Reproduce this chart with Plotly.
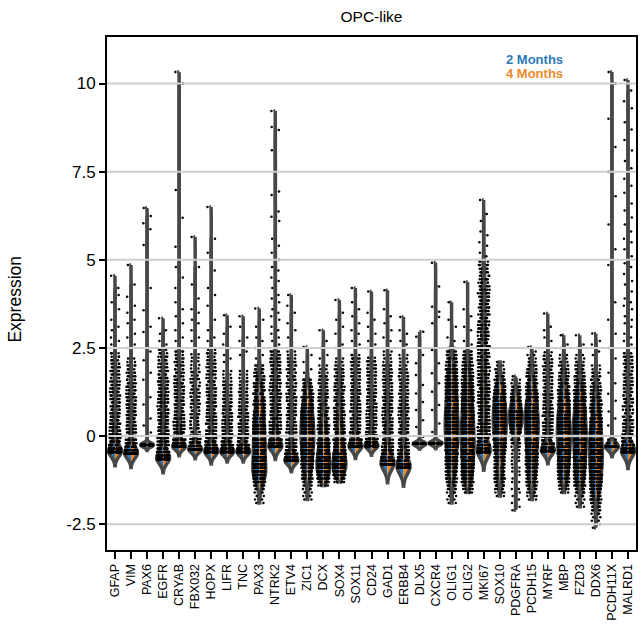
import numpy as np
import plotly.graph_objects as go

# Genes shown along the x axis (OPC-like cells)
GENES = ["GFAP", "VIM", "PAX6", "EGFR", "CRYAB", "FBX032", "HOPX", "LIFR", "TNC",
         "PAX3", "NTRK2", "ETV4", "ZIC1", "DCX", "SOX4", "SOX11", "CD24", "GAD1",
         "ERBB4", "DLX5", "CXCR4", "OLIG1", "OLIG2", "MKI67", "SOX10", "PDGFRA",
         "PCDH15", "MYRF", "MBP", "FZD3", "DDX6", "PCDH11X", "MALRD1"]

GROUPS = ["2 Months", "4 Months"]

# Cell counts tallied on a 0.1-wide grid of scaled expression, starting at
# BULK_START (for zero-inflated genes the first bin is the non-expressing cells)
STEP = 0.1
BULK_START = [-0.45, -0.5, -0.25, -0.65, -0.3, -0.38, -0.45, -0.45, -0.45, -1.9, -0.3, -0.7,
              -1.8, -1.4, -1.3, -0.3, -0.28, -0.8, -0.9, -0.22, -0.2, -1.9, -1.6, -0.45,
              -1.7, -2.1, -1.8, -0.42, -1.6, -2.0, -2.6, -0.3, -0.45]

BULK_2M = [
    [70,10,8,6,5,4,4,4,4,3,4,3,3,3,3,3,3,3,3,2,3,2,2,2,2,2,2,1,2],
    [75,10,8,6,5,4,3,3,3,3,3,3,3,3,3,3,3,3,2,3,2,2,2,2,2,2,1,1],
    [45],
    [65,11,9,7,6,5,5,4,4,4,4,4,4,4,4,4,4,4,4,3,3,3,3,3,2,2,2,2,2,2,2,2],
    [60,11,9,8,6,5,5,5,4,4,3,3,3,3,3,3,3,3,3,3,2,2,2,2,2,2,2,2],
    [55,8,6,4,3,3,2,2,2,2,2,2,2,2,2,2,2,2,2,2,2,1,2,1,1,1,1,1],
    [65,10,8,6,5,4,4,3,3,3,3,3,3,3,3,3,3,3,3,2,2,2,2,2,2,2,2,2,2,1],
    [65,10,8,6,5,3,3,3,3,3,3,3,3,3,3,3,2,2,2,2,2,1,1,1],
    [62,10,8,6,4,3,3,3,3,3,3,3,3,3,2,2,2,2,2,2,1,1,1,1],
    [1,1,1,1,2,4,7,11,13,14,14,13,13,13,12,12,12,12,12,12,11,11,11,10,10,9,9,8,8,7,7,6,5,5,4,4,3,3,2,2],
    [60,11,9,7,6,5,5,5,4,4,4,4,4,4,4,4,4,4,3,3,3,3,3,3,3,3,3,3],
    [65,11,9,6,5,4,4,3,3,3,3,3,3,3,3,3,3,3,3,3,2,2,2,2,2,2,2,2,2,2,1,1],
    [1,1,1,1,2,3,5,6,7,8,9,10,10,11,12,12,13,13,14,14,14,13,13,12,12,11,10,9,8,7,6,5,4,3,3],
    [2,5,9,13,15,16,16,15,14,13,12,11,10,9,8,7,6,6,5,5,4,4,4,3,3,3,3,2,2,2,2,2,2,1,1],
    [2,6,11,15,17,17,16,15,13,11,10,9,8,7,6,6,5,5,5,4,4,4,4,4,3,3,3,3,3,2,2,2,2,2,1,1],
    [60,10,8,6,5,4,3,3,3,3,3,3,3,3,3,3,3,3,2,2,2,2,2,2,2,2,2],
    [60,10,8,6,5,4,4,3,3,3,3,3,3,3,3,3,3,2,2,2,2,2,2,2,2,2],
    [70,12,9,7,6,5,4,4,4,4,4,4,4,3,3,3,3,3,3,3,3,2,2,2,2,2,2,2,2,1,1,1,1],
    [70,12,9,7,6,4,4,4,4,4,4,3,3,3,3,3,3,3,3,2,2,2,2,2,2,2,2,2,2,1,1,1,1],
    [40],
    [40],
    [1,1,1,1,2,3,4,5,6,7,8,8,9,10,10,11,12,12,13,13,14,14,14,14,14,13,13,13,12,12,11,11,10,10,9,8,8,7,6,5,5,4,3,3,2],
    [1,2,4,7,9,10,11,11,12,12,13,13,14,14,15,15,15,15,14,14,14,13,13,12,12,11,11,10,9,9,8,7,7,6,5,5,4,4,3,3,2],
    [60,11,9,7,6,5,5,5,5,5,5,5,5,5,5,5,5,5,5,5,5,4,4,4,4,4,4,4,4,4,4,4,4,4,4,4,4,3,3,3,3,3,3,3,3,3,3,3,3,2,2,2,2,2,2],
    [1,1,2,3,4,4,5,5,5,5,5,6,6,7,8,9,10,11,12,13,13,13,13,13,13,12,12,11,10,9,8,7,5,4,3,2,2,1,1],
    [1,0,1,0,1,0,1,0,1,1,0,1,1,1,1,1,1,1,1,2,3,5,7,10,12,14,15,15,14,12,10,8,6,4,3,2,1,1,1],
    [1,1,2,3,4,5,6,6,7,7,8,8,9,9,10,10,11,11,12,12,13,13,13,13,13,12,12,11,10,9,8,7,6,5,4,4,3,3,2,2,1,1],
    [60,10,8,6,5,4,3,3,3,3,3,3,3,3,3,3,3,3,2,2,2,2,2,2,2,2,2,2,1],
    [1,2,3,5,7,8,9,10,10,11,11,12,12,13,13,14,14,14,14,14,13,13,12,12,11,10,9,8,7,6,5,4,4,3,3,2,2,2,1,1],
    [1,1,1,1,2,3,5,7,8,9,9,10,10,11,11,12,12,13,13,14,14,14,14,14,13,13,12,12,11,10,9,8,7,6,5,4,4,3,3,2,2,2,1,1],
    [1,0,1,1,1,2,2,3,4,5,6,7,8,9,10,11,12,12,13,13,14,14,14,14,14,13,13,12,12,11,10,9,8,7,7,6,5,5,4,4,3,3,2,2,2,1,1],
    [55,3,2],
    [60,10,7,5,4,3,3,3,3,2,2,2,2,2,2,2,2,2,2,2,2,2,2,2,2,2,2,2,2],
]

BULK_4M = [
    [68,10,8,6,5,4,4,3,4,3,3,3,3,3,3,3,3,3,2,3,2,2,2,2,2,2,1,2,1],
    [72,10,8,6,4,4,3,3,3,3,3,3,3,3,3,3,3,2,3,2,2,2,2,2,1,2,1,1],
    [45],
    [62,11,9,7,6,5,4,4,4,4,4,4,4,4,4,4,4,4,3,3,3,3,3,3,2,2,2,2,2,2,1,1],
    [58,11,9,7,6,5,5,4,4,4,3,3,3,3,3,3,3,3,3,2,2,2,2,2,2,2,1,2],
    [55,8,6,4,3,2,2,2,2,2,2,2,2,2,2,2,2,2,2,1,2,1,2,1,1,1,1,1],
    [65,10,8,6,5,4,3,3,3,3,3,3,3,3,3,3,3,2,3,2,2,2,2,2,2,2,2,1,2,1],
    [63,10,8,6,4,3,3,3,3,3,3,3,3,3,3,2,2,2,2,2,1,2,1,1],
    [64,10,8,5,4,3,3,3,3,3,3,3,3,2,3,2,2,2,2,1,2,1,1,1],
    [1,1,1,2,3,5,8,12,14,14,13,13,13,12,12,12,12,12,12,11,11,11,10,10,10,9,9,8,7,7,6,6,5,4,4,3,3,2,2,2],
    [58,11,9,7,6,5,5,4,4,4,4,4,4,4,4,4,4,3,3,3,3,3,3,3,3,3,3,2],
    [63,11,9,6,5,4,3,3,3,3,3,3,3,3,3,3,3,3,3,2,2,2,2,2,2,2,2,2,2,1,1,1],
    [1,1,1,2,2,4,5,6,8,9,9,10,11,11,12,13,13,14,14,14,13,13,13,12,11,11,10,9,8,7,6,5,4,3,2],
    [2,6,10,14,16,16,15,15,14,13,12,11,10,9,8,7,6,6,5,5,4,4,3,3,3,3,3,2,2,2,2,2,1,1,1],
    [2,5,10,15,17,17,16,14,13,11,10,9,8,7,7,6,5,5,5,4,4,4,4,3,3,3,3,3,3,2,2,2,2,1,1,1],
    [60,10,8,6,5,3,3,3,3,3,3,3,3,3,3,3,3,2,2,2,2,2,2,2,2,2,1],
    [58,10,8,6,5,4,3,3,3,3,3,3,3,3,3,3,2,2,2,2,2,2,2,2,2,1],
    [68,12,9,7,6,4,4,4,4,4,4,4,4,3,3,3,3,3,3,3,2,2,2,2,2,2,2,2,2,1,1,1,1],
    [68,12,9,7,5,4,4,4,4,4,3,3,3,3,3,3,3,3,3,2,2,2,2,2,2,2,2,2,1,1,1,1,1],
    [40],
    [40],
    [1,1,1,2,2,3,4,5,6,7,8,9,9,10,11,11,12,13,13,14,14,14,14,14,13,13,13,12,12,11,11,10,10,9,8,8,7,6,6,5,4,4,3,2,2],
    [2,3,5,8,10,10,11,12,12,13,13,14,14,15,15,15,15,14,14,14,13,13,12,12,11,11,10,10,9,8,8,7,6,6,5,4,4,3,3,2,2],
    [58,11,9,7,6,5,5,5,5,5,5,5,5,5,5,5,5,5,5,5,4,4,5,4,4,4,4,4,4,4,4,4,4,4,4,3,4,3,3,3,3,3,3,3,3,3,3,3,2,3,2,2,2,2,1],
    [1,2,2,3,4,5,5,5,5,5,6,6,7,8,9,10,11,12,13,13,13,13,13,13,12,12,11,10,9,8,7,6,5,4,3,2,1,1,1],
    [0,1,0,1,0,1,1,0,1,0,1,1,1,0,1,1,1,1,2,2,4,5,8,10,13,14,15,15,14,12,10,7,5,4,3,2,1,1,0],
    [1,2,2,3,5,5,6,7,7,8,8,9,9,10,10,11,11,12,12,13,13,13,13,13,12,12,11,10,10,9,8,7,6,5,4,3,3,2,2,1,1,1],
    [60,10,8,6,5,3,3,3,3,3,3,3,3,3,3,3,3,2,2,2,2,2,2,2,2,2,2,1,1],
    [1,2,4,6,7,9,9,10,11,11,12,12,13,13,14,14,14,14,14,13,13,12,12,11,10,10,9,8,7,6,5,4,3,3,2,2,2,1,1,1],
    [1,1,1,2,3,4,6,7,8,9,10,10,11,11,12,12,13,13,14,14,14,14,14,13,13,12,12,11,10,10,9,8,7,6,5,4,3,3,2,2,2,1,1,1],
    [0,1,1,1,2,2,3,3,4,5,6,7,9,10,11,12,12,13,13,14,14,14,14,14,13,13,12,12,11,10,10,9,8,7,6,6,5,4,4,3,3,2,2,2,1,1,1],
    [55,3,2],
    [60,10,7,5,4,3,3,3,2,3,2,2,2,2,2,2,2,2,2,2,2,2,2,2,2,2,2,2,1],
]

# Individual high-expressing cells above the dense part of each distribution
TAIL_2M = [
    [2.6, 2.8, 3.0, 3.3, 3.8, 4.55],
    [2.5, 2.8, 3.2, 3.5, 3.95, 4.85],
    [0.3, 0.9, 1.6, 2.15, 2.95, 3.57, 5.42, 6.04, 6.47],
    [2.7, 2.9, 3.34],
    [2.7, 3.0, 3.4, 3.8, 4.2, 4.8, 5.37, 6.98, 10.33],
    [2.7, 3.0, 3.3, 3.6, 4.3, 5.65],
    [2.7, 3.0, 3.7, 4.2, 5.2, 6.5],
    [2.1, 2.3, 2.6, 2.9, 3.43],
    [2.3, 2.7, 3.1, 3.4],
    [2.2, 2.5, 2.8, 3.1, 3.62],
    [2.7, 2.9, 3.1, 3.4, 3.6, 3.9, 4.2, 4.5, 4.8, 5.2, 5.6, 6.22, 6.84, 8.11, 8.77, 9.22],
    [2.8, 3.2, 3.7, 4.0],
    [1.8, 2.1, 2.53],
    [2.2, 2.5, 3.0],
    [2.5, 2.9, 3.3, 3.86],
    [2.7, 3.0, 3.4, 3.8, 4.2],
    [2.5, 2.7, 3.1, 3.5, 4.1],
    [2.8, 3.2, 3.6, 4.14],
    [2.7, 3.0, 3.38],
    [0.26, 0.74, 1.21, 1.73, 2.07, 2.82],
    [0.12, 0.74, 1.26, 1.78, 2.44, 3.2, 3.67, 4.92],
    [2.8, 3.3, 3.8],
    [2.7, 3.1, 3.6, 4.37],
    [5.2, 5.5, 5.8, 6.1, 6.7],
    [],
    [],
    [2.53],
    [2.8, 3.0, 3.48],
    [2.5, 2.86],
    [2.5, 2.86],
    [2.3, 2.6, 2.91],
    [0.3, 0.7, 1.2, 1.8, 2.5, 3.3, 4.85, 6.0, 7.5, 9.0, 10.33],
    [2.7, 2.9, 3.2, 3.4, 3.7, 3.9, 4.3, 4.6, 4.9, 5.3, 5.6, 6.0, 6.4, 6.9, 7.3, 7.8, 8.4, 8.9, 9.5, 10.1],
]

TAIL_4M = [
    [2.7, 3.1, 3.6, 4.0, 4.2],
    [2.6, 2.9, 3.3, 3.7, 4.3],
    [0.1, 0.5, 1.1, 1.8, 2.4, 3.1, 4.2, 5.87, 6.24],
    [2.6, 3.0],
    [2.8, 3.2, 3.6, 4.5, 6.19, 10.0],
    [2.8, 3.2, 3.5, 3.9, 4.8],
    [2.8, 3.3, 4.0, 4.7, 5.6],
    [2.2, 2.5, 3.1],
    [2.4, 2.8],
    [2.3, 2.7, 3.3],
    [2.6, 2.8, 3.0, 3.3, 3.5, 3.8, 4.0, 4.4, 4.7, 5.0, 5.4, 6.1, 6.37, 6.94, 8.68],
    [3.0, 3.5],
    [1.9, 2.3],
    [2.3, 2.7],
    [2.6, 3.1, 3.5],
    [2.6, 2.9, 3.2, 3.6],
    [2.6, 2.9, 3.3],
    [2.7, 3.0, 3.4],
    [2.6, 2.9],
    [-0.02, 0.45, 0.97, 1.45, 2.3, 2.96],
    [0.36, 0.88, 1.5, 2.07, 3.38, 3.53, 4.24],
    [2.7, 3.1],
    [2.6, 3.0, 3.4],
    [5.1, 5.4, 5.7, 6.3],
    [],
    [],
    [2.4],
    [2.7, 3.1],
    [2.6],
    [2.6],
    [2.4, 2.7],
    [0.5, 1.0, 1.5, 2.2, 2.9, 3.8, 5.3, 6.8, 8.2, 10.0],
    [2.6, 2.8, 3.1, 3.3, 3.6, 3.8, 4.1, 4.4, 4.8, 5.1, 5.5, 5.8, 6.2, 6.6, 7.1, 7.6, 8.1, 8.7, 9.3, 9.8],
]

# Kernel bandwidth used for each gene's density estimate
BANDWIDTH = [0.15, 0.15, 0.06, 0.15, 0.10, 0.10, 0.13, 0.11, 0.11, 0.15, 0.14, 0.12,
             0.15, 0.15, 0.15, 0.13, 0.10, 0.20, 0.20, 0.06, 0.06, 0.15, 0.15, 0.20,
             0.15, 0.15, 0.15, 0.14, 0.15, 0.15, 0.15, 0.11, 0.18]

Y_TICKS = [-2.5, 0, 2.5, 5, 7.5, 10]
Y_TICK_TEXT = ["-2.5", "0", "2.5", "5", "7.5", "10"]

BLUE = "#2c7ab7"
ORANGE = "#ea8a2b"
OUTLINE = "#474747"
FONT = "Liberation Sans, Arial, Helvetica, sans-serif"


def cells(start, counts, tail):
    levels = np.round(start + STEP * np.arange(len(counts)), 2)
    return np.concatenate([np.repeat(levels, counts), np.asarray(tail, dtype=float)])


fig = go.Figure()
for i, gene in enumerate(GENES):
    for group, bulk, tail, side, color, pos in (
        (GROUPS[0], BULK_2M, TAIL_2M, "negative", BLUE, -0.55),
        (GROUPS[1], BULK_4M, TAIL_4M, "positive", ORANGE, 0.55),
    ):
        y = cells(BULK_START[i], bulk[i], tail[i])
        bw = BANDWIDTH[i]
        # zero-inflated genes get a full kernel below the non-expressing cells
        zero_inflated = int(np.argmax(bulk[i])) == 0
        lower = y.min() - (2.6 * bw if zero_inflated else 0.0)
        fig.add_trace(go.Violin(
            x=[gene] * len(y), y=y, name=group, legendgroup=group,
            side=side, width=0.8, scalemode="width",
            spanmode="manual", span=[lower, y.max()], bandwidth=bw,
            fillcolor=color, line=dict(color=OUTLINE, width=3.5),
            points="all", pointpos=pos, jitter=0.4,
            marker=dict(color="black", size=2.5, line=dict(width=0)),
            box_visible=False, meanline_visible=False,
            showlegend=False, hoverinfo="skip",
        ))

# Horizontal reference lines sit on top of the violins
for v in Y_TICKS:
    fig.add_shape(type="line", xref="paper", x0=0, x1=1, yref="y", y0=v, y1=v,
                  line=dict(color="#cfcfcf", width=2), layer="above")

fig.update_layout(
    width=642, height=629,
    margin=dict(l=107, r=6, t=37, b=79),
    paper_bgcolor="white", plot_bgcolor="white",
    violinmode="overlay", showlegend=False,
    font=dict(family=FONT, color="black"),
    title=dict(text="OPC-like", x=0.5, xref="paper", xanchor="center",
               y=1 - 17 / 629, yref="container", yanchor="middle",
               font=dict(size=15.5, family=FONT, color="black")),
    annotations=[
        dict(text="<b>2 Months</b>", x=0.809, y=0.957, xref="paper", yref="paper",
             xanchor="center", yanchor="middle", showarrow=False,
             font=dict(size=13, color=BLUE, family=FONT)),
        dict(text="<b>4 Months</b>", x=0.809, y=0.928, xref="paper", yref="paper",
             xanchor="center", yanchor="middle", showarrow=False,
             font=dict(size=13, color=ORANGE, family=FONT)),
        dict(text="Expression", x=-0.174, y=0.49, xref="paper", yref="paper",
             xanchor="center", yanchor="middle", textangle=-90, showarrow=False,
             font=dict(size=17.5, family=FONT)),
    ],
)
fig.update_xaxes(
    type="category", categoryorder="array", categoryarray=GENES,
    range=[-0.5, len(GENES) - 0.5],
    showline=True, linecolor="black", linewidth=2, mirror=True,
    ticks="outside", ticklen=7, tickwidth=1.5, tickcolor="black",
    tickangle=-90, tickfont=dict(size=12.5, family=FONT), showgrid=False,
    automargin=False, layer="above traces",
)
fig.update_yaxes(
    range=[-3.23, 11.32], tickvals=Y_TICKS, ticktext=Y_TICK_TEXT,
    showline=True, linecolor="black", linewidth=2, mirror=True,
    ticks="outside", ticklen=6, tickwidth=1.5, tickcolor="black",
    tickfont=dict(size=17, family=FONT), showgrid=False, zeroline=False,
    automargin=False, layer="above traces",
)

fig.write_html("out.html")
